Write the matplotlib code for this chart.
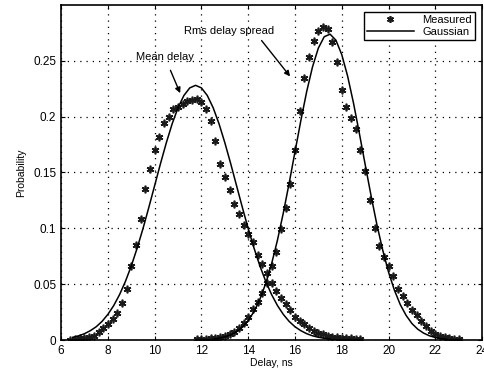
import matplotlib.pyplot as plt

# measured delay distributions
mean_d = [6.4, 6.6, 6.8, 7.0, 7.2, 7.4, 7.6, 7.8, 8.0, 8.2, 8.4, 8.6, 8.8, 9.0, 9.2, 9.4,
          9.6, 9.8, 10.0, 10.2, 10.4, 10.6, 10.8, 11.0, 11.2, 11.4, 11.6, 11.8, 12.0, 12.2,
          12.4, 12.6, 12.8, 13.0, 13.2, 13.4, 13.6, 13.8, 14.0, 14.2, 14.4, 14.6, 14.8,
          15.0, 15.2, 15.4, 15.6, 15.8, 16.0, 16.2, 16.4, 16.6, 16.8, 17.0, 17.2, 17.4,
          17.6, 17.8, 18.0, 18.2, 18.4, 18.6, 18.8]
mean_p = [0.000, 0.001, 0.002, 0.002, 0.003, 0.004, 0.007, 0.011, 0.014, 0.019, 0.024,
          0.033, 0.046, 0.066, 0.085, 0.108, 0.135, 0.153, 0.170, 0.182, 0.194, 0.200,
          0.207, 0.209, 0.211, 0.214, 0.215, 0.216, 0.213, 0.207, 0.196, 0.178, 0.158,
          0.146, 0.134, 0.122, 0.113, 0.103, 0.095, 0.088, 0.076, 0.068, 0.060, 0.051,
          0.044, 0.038, 0.032, 0.027, 0.021, 0.017, 0.014, 0.011, 0.008, 0.006, 0.005,
          0.004, 0.003, 0.003, 0.002, 0.002, 0.002, 0.001, 0.001]

rms_d = [11.8, 12.0, 12.2, 12.4, 12.6, 12.8, 13.0, 13.2, 13.4, 13.6, 13.8, 14.0, 14.2,
         14.4, 14.6, 14.8, 15.0, 15.2, 15.4, 15.6, 15.8, 16.0, 16.2, 16.4, 16.6, 16.8,
         17.0, 17.2, 17.4, 17.6, 17.8, 18.0, 18.2, 18.4, 18.6, 18.8, 19.0, 19.2, 19.4,
         19.6, 19.8, 20.0, 20.2, 20.4, 20.6, 20.8, 21.0, 21.2, 21.4, 21.6, 21.8, 22.0,
         22.2, 22.4, 22.6, 22.8, 23.0]
rms_p = [0.001, 0.001, 0.001, 0.002, 0.002, 0.003, 0.004, 0.005, 0.007, 0.011, 0.015,
         0.021, 0.028, 0.034, 0.042, 0.051, 0.066, 0.079, 0.099, 0.118, 0.140, 0.170,
         0.205, 0.235, 0.253, 0.268, 0.277, 0.280, 0.278, 0.267, 0.249, 0.224, 0.209,
         0.199, 0.189, 0.170, 0.151, 0.125, 0.100, 0.084, 0.074, 0.066, 0.057, 0.046,
         0.039, 0.033, 0.027, 0.022, 0.017, 0.013, 0.008, 0.005, 0.004, 0.003, 0.002,
         0.001, 0.001]

# fitted gaussian curves
gmean_d = [6.5, 6.75, 7.0, 7.25, 7.5, 7.75, 8.0, 8.25, 8.5, 8.75, 9.0, 9.25, 9.5, 9.75,
           10.0, 10.25, 10.5, 10.75, 11.0, 11.25, 11.5, 11.75, 12.0, 12.25, 12.5, 12.75,
           13.0, 13.25, 13.5, 13.75, 14.0, 14.25, 14.5, 14.75, 15.0, 15.25, 15.5, 15.75,
           16.0, 16.25, 16.5, 16.75, 17.0, 17.25, 17.5]
gmean_p = [0.0025, 0.0038, 0.0057, 0.0084, 0.0119, 0.0167, 0.0230, 0.0309, 0.0407,
           0.0525, 0.0663, 0.0822, 0.0997, 0.1187, 0.1383, 0.1580, 0.1767, 0.1937,
           0.2080, 0.2189, 0.2257, 0.2280, 0.2257, 0.2189, 0.2080, 0.1937, 0.1767,
           0.1580, 0.1383, 0.1187, 0.0997, 0.0822, 0.0663, 0.0525, 0.0407, 0.0309,
           0.0230, 0.0167, 0.0119, 0.0084, 0.0057, 0.0038, 0.0025, 0.0016, 0.0010]

grms_d = [12.5, 12.75, 13.0, 13.25, 13.5, 13.75, 14.0, 14.25, 14.5, 14.75, 15.0, 15.25,
          15.5, 15.75, 16.0, 16.25, 16.5, 16.75, 17.0, 17.25, 17.5, 17.75, 18.0, 18.25,
          18.5, 18.75, 19.0, 19.25, 19.5, 19.75, 20.0, 20.25, 20.5, 20.75, 21.0, 21.25,
          21.5, 21.75, 22.0, 22.25, 22.5]
grms_p = [0.0009, 0.0017, 0.0028, 0.0046, 0.0074, 0.0115, 0.0174, 0.0256, 0.0366,
          0.0507, 0.0683, 0.0894, 0.1137, 0.1404, 0.1685, 0.1964, 0.2224, 0.2446,
          0.2614, 0.2715, 0.2738, 0.2684, 0.2555, 0.2363, 0.2123, 0.1853, 0.1572,
          0.1295, 0.1035, 0.0806, 0.0608, 0.0447, 0.0318, 0.0221, 0.0148, 0.0097,
          0.0062, 0.0038, 0.0023, 0.0013, 0.0007]

xticks = [6, 8, 10, 12, 14, 16, 18, 20, 22, 24]
yticks = [0, 0.05, 0.1, 0.15, 0.2, 0.25]

plt.rcParams['font.family'] = ['Liberation Sans', 'DejaVu Sans']
fig = plt.figure(figsize=(4.85, 3.77), dpi=100)
ax = fig.add_axes([0.126, 0.098, 0.868, 0.889])

star = (6, 2, 0)  # asterisk like matlab '*'
ax.plot(mean_d, mean_p, ls='none', marker=star, ms=5.5, mew=1.2, color='#1a1a1a', label='Measured')
ax.plot(rms_d, rms_p, ls='none', marker=star, ms=5.5, mew=1.2, color='#1a1a1a')
ax.plot(gmean_d, gmean_p, color='black', lw=1.1, label='Gaussian')
ax.plot(grms_d, grms_p, color='black', lw=1.1)

ax.set_xlim(6, 24)
ax.set_ylim(0, 0.3)
ax.set_xticks(xticks)
ax.set_xticklabels([str(t) for t in xticks])
ax.set_yticks(yticks)
ax.set_yticklabels(['0', '0.05', '0.1', '0.15', '0.2', '0.25'])
ax.grid(True, ls=(0, (1, 4)), color='black', lw=0.9)
ax.tick_params(direction='in', labelsize=8.5, length=3, top=True, right=True)
for s in ax.spines.values():
    s.set_linewidth(1.2)

ax.set_xlabel('Delay, ns', fontsize=7.5, labelpad=1)
ax.set_ylabel('Probability', fontsize=7.5, labelpad=5)

ax.annotate('Mean delay', xy=(11.09, 0.221), xytext=(10.44, 0.253), fontsize=8,
            ha='center', va='center',
            arrowprops=dict(arrowstyle='-|>', color='black', lw=1.0, shrinkA=4, shrinkB=0))
ax.annotate('Rms delay spread', xy=(15.79, 0.236), xytext=(13.18, 0.277), fontsize=8,
            ha='center', va='center',
            arrowprops=dict(arrowstyle='-|>', color='black', lw=1.0, shrinkA=2, shrinkB=0,
                            relpos=(0.8, 0.2)))

leg = ax.legend(loc='upper right', fontsize=8, frameon=True, fancybox=False,
                edgecolor='black', framealpha=1, borderaxespad=0.6,
                handlelength=4.2, borderpad=0.3, labelspacing=0.2, markerscale=0.9)
leg.get_frame().set_linewidth(1.0)

fig.savefig('out.png', dpi=100)
